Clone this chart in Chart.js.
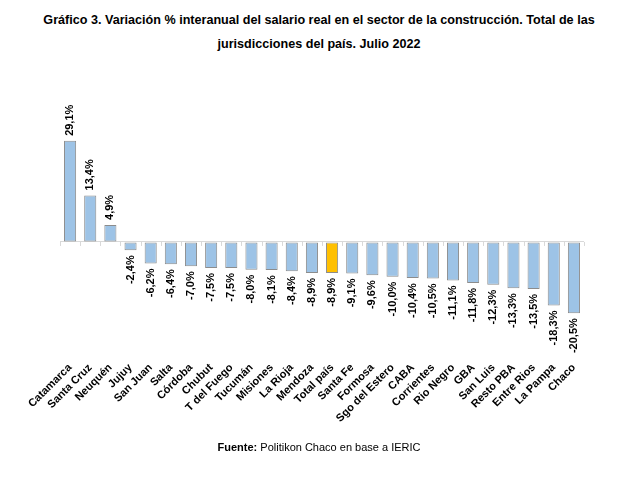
<!DOCTYPE html>
<html>
<head>
<meta charset="utf-8">
<script src="https://cdn.jsdelivr.net/npm/chart.js@4"></script>
<style>
  body { margin: 0; background: #fff; width: 638px; height: 488px; position: relative; overflow: hidden; }
  #titulo { position: absolute; top: 8px; left: 0; width: 638px; text-align: center;
            font: bold 12.6px "Liberation Sans Narrow", "Arial Narrow", "Liberation Sans", sans-serif;
            line-height: 24px; color: #000; }
  #fuente { position: absolute; top: 441px; left: 0; width: 638px; text-align: center;
            font: 11px "Liberation Sans", Arial, sans-serif; color: #000; }
  #wrap { position: absolute; left: 0; top: 0; width: 638px; height: 488px; }
</style>
</head>
<body>
<div id="titulo">Gráfico 3. Variación % interanual del salario real en el sector de la construcción. Total de las<br>jurisdicciones del país. Julio 2022</div>
<div id="wrap"><canvas id="salarioChart"></canvas></div>
<div id="fuente"><b>Fuente:</b> Politikon Chaco en base a IERIC</div>
<script>
// Jurisdicciones y variación % interanual (julio 2022)
const jurisdicciones = ['Catamarca', 'Santa Cruz', 'Neuquén', 'Jujuy', 'San Juan', 'Salta', 'Córdoba', 'Chubut',
  'T del Fuego', 'Tucumán', 'Misiones', 'La Rioja', 'Mendoza', 'Total país', 'Santa Fe', 'Formosa',
  'Sgo del Estero', 'CABA', 'Corrientes', 'Rio Negro', 'GBA', 'San Luis', 'Resto PBA', 'Entre Rios',
  'La Pampa', 'Chaco'];
const variacion = [29.1, 13.4, 4.9, -2.4, -6.2, -6.4, -7.0, -7.5, -7.5, -8.0, -8.1, -8.4, -8.9, -8.9,
  -9.1, -9.6, -10.0, -10.4, -10.5, -11.1, -11.8, -12.3, -13.3, -13.5, -18.3, -20.5];

const fmt = v => v.toFixed(1).replace('.', ',') + '%';

// etiquetas verticales en la punta de cada barra
const etiquetasBarras = {
  id: 'etiquetasBarras',
  afterDatasetsDraw(chart) {
    const ctx = chart.ctx;
    const meta = chart.getDatasetMeta(0);
    ctx.save();
    ctx.font = 'bold 11px "Liberation Sans", Arial, sans-serif';
    ctx.fillStyle = '#000';
    ctx.textBaseline = 'middle';
    meta.data.forEach((bar, i) => {
      const v = variacion[i];
      ctx.save();
      ctx.translate(bar.x, v >= 0 ? bar.y - 5 : bar.y + 5);
      ctx.rotate(-Math.PI / 2);
      ctx.textAlign = v >= 0 ? 'left' : 'right';
      ctx.fillText(fmt(v), 0, 0);
      ctx.restore();
    });
    ctx.restore();
  }
};

// marcas del eje en la línea de cero
const marcasCero = {
  id: 'marcasCero',
  beforeDatasetsDraw(chart) {
    const x = chart.scales.x, y = chart.scales.y;
    const y0 = y.getPixelForValue(0);
    const paso = x.getPixelForValue(1) - x.getPixelForValue(0);
    const ctx = chart.ctx;
    ctx.save();
    ctx.strokeStyle = '#d9d9d9';
    ctx.lineWidth = 1;
    for (let i = 0; i <= jurisdicciones.length; i++) {
      const px = Math.round(x.getPixelForValue(0) - paso / 2 + i * paso) + 0.5;
      ctx.beginPath();
      ctx.moveTo(px, y0);
      ctx.lineTo(px, y0 + 4);
      ctx.stroke();
    }
    ctx.restore();
  }
};

const ctx = document.getElementById('salarioChart').getContext('2d');
new Chart(ctx, {
  type: 'bar',
  data: {
    labels: jurisdicciones,
    datasets: [{
      data: variacion,
      backgroundColor: jurisdicciones.map(j => j === 'Total país' ? '#FFC000' : '#9DC3E6'),
      borderColor: '#8c8c8c',
      borderWidth: 1,
      borderSkipped: false,
      categoryPercentage: 1,
      barPercentage: 0.6
    }]
  },
  options: {
    responsive: true,
    maintainAspectRatio: false,
    animation: false,
    layout: { padding: { left: 60, right: 54, top: 103, bottom: 56 } },
    plugins: {
      legend: { display: false },
      tooltip: { enabled: false }
    },
    scales: {
      x: {
        grid: { display: false },
        border: { display: false },
        ticks: {
          autoSkip: false,
          minRotation: 45,
          maxRotation: 45,
          padding: 7,
          color: '#000',
          font: { family: '"Liberation Sans", Arial, sans-serif', size: 11, weight: 'bold' }
        }
      },
      y: {
        min: -30,
        max: 40,
        ticks: { display: false, stepSize: 5 },
        border: { display: false },
        grid: {
          drawTicks: false,
          color: c => c.tick && c.tick.value === 0 ? '#d9d9d9' : 'rgba(0,0,0,0)'
        }
      }
    }
  },
  plugins: [etiquetasBarras, marcasCero]
});
</script>
</body>
</html>
